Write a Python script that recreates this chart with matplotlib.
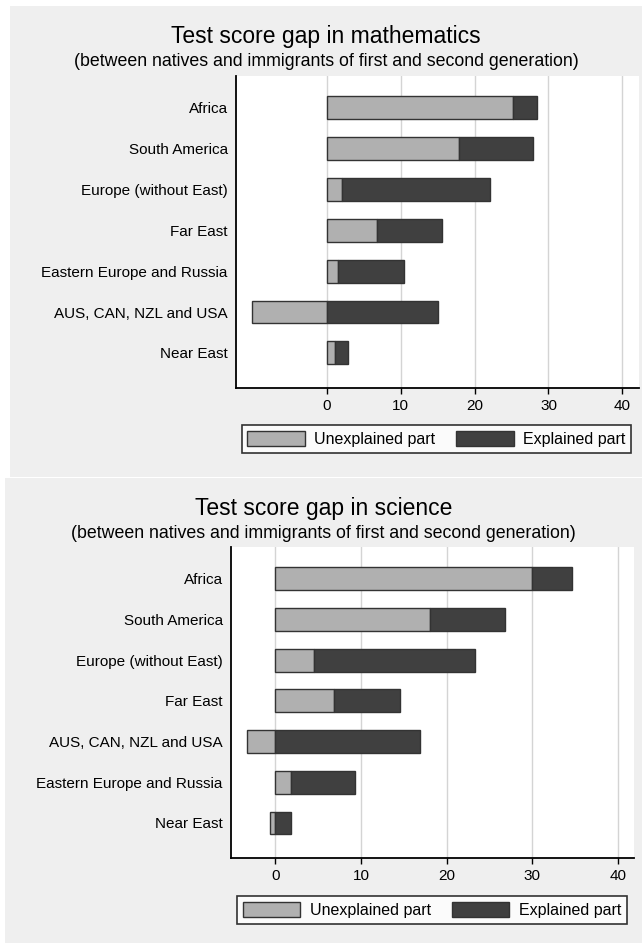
import numpy as np
import matplotlib
matplotlib.use("Agg")
import matplotlib.pyplot as plt
from matplotlib.patches import Rectangle, Patch

plt.rcParams['font.family'] = ['Liberation Sans', 'DejaVu Sans']

# Data
math_regions = ["Africa", "South America", "Europe (without East)", "Far East",
                "Eastern Europe and Russia", "AUS, CAN, NZL and USA", "Near East"]
math_unexplained = [25.2, 17.9, 2.0, 6.8, 1.45, -10.1, 1.15]
math_explained = [3.2, 10.0, 20.1, 8.75, 9.0, 15.05, 1.75]

sci_regions = ["Africa", "South America", "Europe (without East)", "Far East",
               "AUS, CAN, NZL and USA", "Eastern Europe and Russia", "Near East"]
sci_unexplained = [30.0, 18.1, 4.55, 6.8, -3.3, 1.8, -0.6]
sci_explained = [4.7, 8.75, 18.75, 7.8, 16.85, 7.5, 1.8]

xticks = [0, 10, 20, 30, 40]
legend_labels = ["Unexplained part", "Explained part"]

LIGHT = "#b0b0b0"
DARK = "#404040"
EDGE = "#333333"
PANEL = "#efefef"

W, H = 642, 943
fig = plt.figure(figsize=(W / 100, H / 100), dpi=100)


def px_box(x0, y0, x1, y1):
    # pixel box (top-left origin) -> figure fraction [left, bottom, width, height]
    return [x0 / W, (H - y1) / H, (x1 - x0) / W, (y1 - y0) / H]


def panel(bg, ax_box, xlim, regions, unexpl, expl, title, title_y, sub_y, leg_box):
    l, b, w, h = px_box(*bg)
    fig.patches.append(Rectangle((l, b), w, h, transform=fig.transFigure,
                                 facecolor=PANEL, edgecolor="none", zorder=-5))
    ax = fig.add_axes(px_box(*ax_box), zorder=2)
    ax.set_facecolor("white")
    y = np.arange(len(regions))
    u = np.array(unexpl)
    e = np.array(expl)
    ax.barh(y, u, height=0.56, color=LIGHT, edgecolor=EDGE, linewidth=1, zorder=3)
    ax.barh(y, e, left=np.maximum(u, 0), height=0.56, color=DARK,
            edgecolor=EDGE, linewidth=1, zorder=3)
    ax.set_yticks(y)
    ax.set_yticklabels(regions, fontsize=11)
    ax.set_ylim(len(regions) - 1 + 0.86, -0.78)
    ax.set_xlim(*xlim)
    ax.set_xticks(xticks)
    ax.tick_params(axis="x", length=4, width=1, pad=4, labelsize=11)
    ax.tick_params(axis="y", length=0, pad=6)
    ax.grid(axis="x", color="#d4d4d4", linewidth=1, zorder=0)
    ax.set_axisbelow(True)
    for s in ["top", "right"]:
        ax.spines[s].set_visible(False)
    for s in ["left", "bottom"]:
        ax.spines[s].set_linewidth(1.3)
    cx = (bg[0] + bg[2]) / 2 / W
    fig.text(cx, 1 - title_y / H, title, ha="center", va="center", fontsize=16.5)
    fig.text(cx, 1 - sub_y / H,
             "(between natives and immigrants of first and second generation)",
             ha="center", va="center", fontsize=12.8)
    handles = [Patch(facecolor=LIGHT, edgecolor=EDGE), Patch(facecolor=DARK, edgecolor=EDGE)]
    lb = px_box(*leg_box)
    leg = fig.legend(handles, legend_labels, ncol=2, loc="center",
                     bbox_to_anchor=(lb[0] + lb[2] / 2, lb[1] + lb[3] / 2),
                     bbox_transform=fig.transFigure, fontsize=11.5,
                     handlelength=3.6, handleheight=1.1, handletextpad=0.6,
                     columnspacing=1.3, frameon=True, fancybox=False,
                     borderpad=0.35)
    leg.get_frame().set_edgecolor("black")
    leg.get_frame().set_linewidth(1.2)
    return ax


panel((10, 6, 642, 477), (236, 76, 638.6, 388), (-12.3, 42.2),
      math_regions, math_unexplained, math_explained,
      "Test score gap in mathematics", 37, 62, (241, 424, 632, 454))
panel((5, 478, 642, 943), (231, 547, 634, 858), (-5.2, 41.9),
      sci_regions, sci_unexplained, sci_explained,
      "Test score gap in science", 508, 533, (236, 895, 627.5, 925))

fig.savefig("out.png", dpi=100)
